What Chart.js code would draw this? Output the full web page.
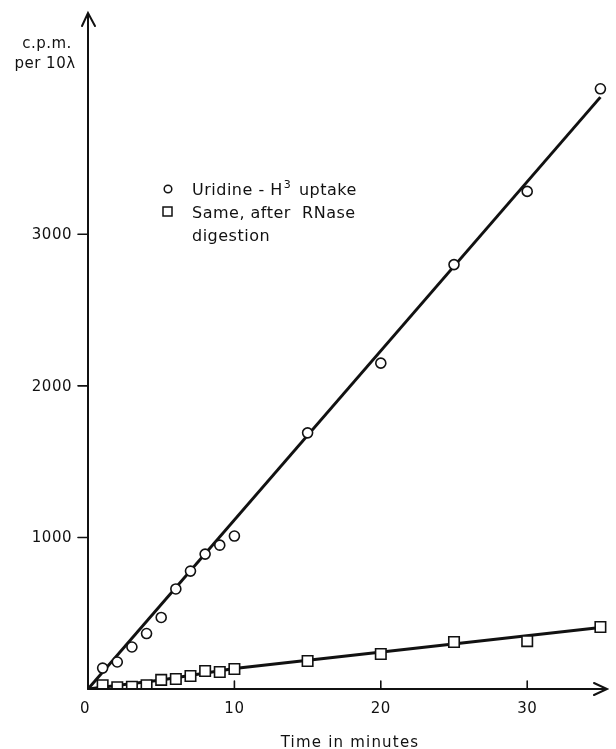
<!DOCTYPE html>
<html>
<head>
<meta charset="utf-8">
<title>Uridine-H3 uptake</title>
<script src="https://cdn.jsdelivr.net/npm/chart.js@4.4.1/dist/chart.umd.min.js"></script>
<style>
  html, body { margin: 0; padding: 0; background: #fff; }
  #wrap { width: 616px; height: 749px; }
</style>
</head>
<body>
<div id="wrap"><canvas id="chart" width="616" height="749"></canvas></div>
<script>
// Data
const minutes = [1, 2, 3, 4, 5, 6, 7, 8, 9, 10, 15, 20, 25, 30, 35];
const uridineCpm = [138, 178, 277, 366, 472, 660, 778, 890, 949, 1009, 1690, 2150, 2800, 3283, 3960];
const rnaseCpm = [25, 12, 15, 25, 60, 66, 86, 119, 112, 132, 185, 231, 310, 316, 409];

// drawn fit lines
const uridineFitT = [0, 35];
const uridineFitCpm = [0, 3905];
const rnaseFitT = [0, 5, 10, 35];
const rnaseFitCpm = [0, 60, 135, 405];

const xTicks = [0, 10, 20, 30];
const yTicks = [1000, 2000, 3000];

const toPoints = (xs, ys) => xs.map((x, i) => ({ x: x, y: ys[i] }));

const FONT = '"DejaVu Sans", sans-serif';
const INK = '#111';

// axes, arrows, ticks and all text
const paperAxes = {
  id: 'paperAxes',
  afterDraw(chart) {
    const ctx = chart.ctx;
    const xs = chart.scales.x, ys = chart.scales.y;
    const x0 = xs.getPixelForValue(0), y0 = ys.getPixelForValue(0);
    const top = ys.getPixelForValue(ys.max), right = xs.getPixelForValue(xs.max);
    ctx.save();
    ctx.strokeStyle = INK;
    ctx.fillStyle = INK;
    ctx.lineWidth = 2;
    ctx.lineCap = 'round';

    // y axis with arrow
    ctx.beginPath();
    ctx.moveTo(x0, y0);
    ctx.lineTo(x0, top);
    ctx.moveTo(x0 - 6, top + 13);
    ctx.lineTo(x0, top);
    ctx.lineTo(x0 + 7, top + 13);
    ctx.stroke();

    // x axis with arrow
    ctx.beginPath();
    ctx.moveTo(x0, y0);
    ctx.lineTo(right, y0);
    ctx.moveTo(right - 13, y0 - 6);
    ctx.lineTo(right, y0);
    ctx.lineTo(right - 13, y0 + 6);
    ctx.stroke();

    ctx.lineWidth = 1.6;
    ctx.font = '15px ' + FONT;
    ctx.letterSpacing = '0.5px';

    // y ticks
    ctx.textAlign = 'right';
    ctx.textBaseline = 'middle';
    yTicks.forEach(v => {
      const py = ys.getPixelForValue(v);
      ctx.beginPath();
      ctx.moveTo(x0 - 10, py);
      ctx.lineTo(x0, py);
      ctx.stroke();
      ctx.fillText(String(v), x0 - 16, py + 1);
    });

    // x ticks
    ctx.textAlign = 'center';
    ctx.textBaseline = 'alphabetic';
    xTicks.forEach(v => {
      const px = xs.getPixelForValue(v);
      if (v !== 0) {
        ctx.beginPath();
        ctx.moveTo(px, y0);
        ctx.lineTo(px, y0 - 8);
        ctx.stroke();
      }
      ctx.fillText(String(v), px - (v === 0 ? 3 : 0), y0 + 24);
    });

    // axis titles
    ctx.letterSpacing = '1.2px';
    ctx.fillText('Time in minutes', 350, 747);
    ctx.letterSpacing = '0.5px';
    ctx.fillText('c.p.m.', 47, 48);
    ctx.fillText('per 10\u03bb', 45, 68);

    // legend
    ctx.textAlign = 'left';
    ctx.font = '16px ' + FONT;
    ctx.lineWidth = 1.5;
    ctx.beginPath();
    ctx.arc(168, 189, 3.8, 0, Math.PI * 2);
    ctx.stroke();
    ctx.strokeRect(163, 207, 9, 9);
    ctx.fillText('Uridine - H', 192, 195);
    let w = ctx.measureText('Uridine - H').width;
    ctx.font = '11px ' + FONT;
    ctx.fillText('3', 192 + w + 1, 188);
    let w3 = ctx.measureText('3').width;
    ctx.font = '16px ' + FONT;
    ctx.fillText(' uptake', 192 + w + w3 + 3, 195);
    ctx.fillText('Same, after  RNase', 192, 218);
    ctx.fillText('digestion', 192, 241);
    ctx.restore();
  }
};

new Chart(document.getElementById('chart'), {
  type: 'scatter',
  data: {
    datasets: [
      {
        label: 'Uridine-H3 uptake',
        data: toPoints(minutes, uridineCpm),
        pointStyle: 'circle',
        pointRadius: 5,
        pointBorderWidth: 1.6,
        pointBorderColor: INK,
        pointBackgroundColor: '#fff',
        order: 0
      },
      {
        label: 'Same, after RNase digestion',
        data: toPoints(minutes, rnaseCpm),
        pointStyle: 'rect',
        pointRadius: 7.4,
        pointBorderWidth: 1.6,
        pointBorderColor: INK,
        pointBackgroundColor: '#fff',
        order: 0
      },
      {
        label: 'uridine fit',
        data: toPoints(uridineFitT, uridineFitCpm),
        showLine: true,
        pointRadius: 0,
        borderColor: INK,
        borderWidth: 3,
        order: 1
      },
      {
        label: 'rnase fit',
        data: toPoints(rnaseFitT, rnaseFitCpm),
        showLine: true,
        pointRadius: 0,
        borderColor: INK,
        borderWidth: 3,
        order: 1
      }
    ]
  },
  options: {
    responsive: false,
    animation: false,
    layout: { padding: { left: 88, right: 4, top: 13, bottom: 60 } },
    scales: {
      x: { type: 'linear', min: 0, max: 35.45, display: false },
      y: { type: 'linear', min: 0, max: 4460, display: false }
    },
    plugins: {
      legend: { display: false },
      tooltip: { enabled: false }
    }
  },
  plugins: [paperAxes]
});
</script>
</body>
</html>
